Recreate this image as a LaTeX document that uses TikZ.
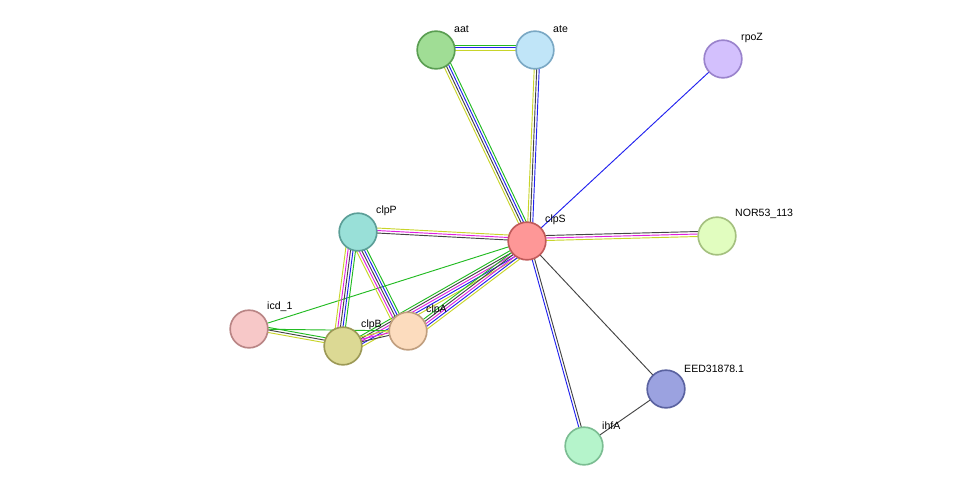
\documentclass[tikz,border=0pt]{standalone}
\usepackage{fontspec}
\setmainfont{Liberation Sans}
\usetikzlibrary{calc,backgrounds}
\definecolor{ey}{HTML}{C8D42A}
\definecolor{eg}{HTML}{22BB22}
\definecolor{eb}{HTML}{2222EE}
\definecolor{em}{HTML}{E020E0}
\definecolor{ek}{HTML}{444444}
\definecolor{aatF}{HTML}{A0DD95}\definecolor{aatD}{HTML}{5A9E52}
\definecolor{ateF}{HTML}{C0E5F8}\definecolor{ateD}{HTML}{7AA8C4}
\definecolor{rpoF}{HTML}{D3C0FD}\definecolor{rpoD}{HTML}{9A83CC}
\definecolor{clsF}{HTML}{FE9797}\definecolor{clsD}{HTML}{C05A5A}
\definecolor{norF}{HTML}{E1FDBF}\definecolor{norD}{HTML}{A4C07F}
\definecolor{clpF}{HTML}{99E0D8}\definecolor{clpD}{HTML}{5B9E97}
\definecolor{icdF}{HTML}{F7C8C8}\definecolor{icdD}{HTML}{B98585}
\definecolor{clbF}{HTML}{DCD994}\definecolor{clbD}{HTML}{9C9956}
\definecolor{claF}{HTML}{FCDCBE}\definecolor{claD}{HTML}{C09E7E}
\definecolor{eedF}{HTML}{9BA2E0}\definecolor{eedD}{HTML}{5A62A0}
\definecolor{ihfF}{HTML}{B5F4CB}\definecolor{ihfD}{HTML}{7BBD92}
\newcommand{\strand}[3]{%
  \foreach \c [count=\i] in {#3} {
    \pgfmathsetmacro{\off}{(\i-1)*0.075}
    \draw[\c, line width=0.8pt] ($(#1)!\off cm!90:(#2)$) -- ($(#2)!\off cm!-90:(#1)$);
  }}
\begin{document}
\begin{tikzpicture}[x=0.03cm,y=-0.03cm,
  prot/.style={circle, minimum size=1.13cm, inner sep=0pt, line width=1.4pt, fill=#1F, draw=#1D},
  lbl/.style={font=\fontsize{9pt}{10pt}\selectfont, inner sep=0pt, anchor=south west}]
\useasboundingbox (0,0) rectangle (976,492);
\node[prot=aat] (aat) at (436,50) {};
\node[prot=ate] (ate) at (535,50) {};
\node[prot=rpo] (rpoZ) at (723,59) {};
\node[prot=cls] (clpS) at (527,241) {};
\node[prot=nor] (nor) at (717,236) {};
\node[prot=clp] (clpP) at (358,232) {};
\node[prot=icd] (icd) at (249,329) {};
\node[prot=clb] (clpB) at (343,346) {};
\node[prot=cla] (clpA) at (408,331) {};
\node[prot=eed] (eed) at (666,389) {};
\node[prot=ihf] (ihfA) at (584,446) {};
% labels
\node[lbl] at (454,33) {aat};
\node[lbl] at (553,33) {ate};
\node[lbl] at (741,43) {rpoZ};
\node[lbl] at (545,225) {clpS};
\node[lbl] at (735,219) {NOR53\_113};
\node[lbl] at (376,216) {clpP};
\node[lbl] at (267,312) {icd\_1};
\node[lbl] at (361,330) {clpB};
\node[lbl] at (426,315) {clpA};
\node[lbl] at (684,373) {EED31878.1};
\node[lbl] at (602,430) {ihfA};
% edges
\begin{scope}[on background layer]
\strand{aat}{ate}{ey,eb,eg}
\strand{aat}{clpS}{ey,ek,eb,eg}
\strand{ate}{clpS}{ey,ek,eb}
\strand{rpoZ}{clpS}{eb}
\strand{clpS}{nor}{ey,em,ek}
\strand{clpP}{clpS}{ek,em,ey}
\strand{clpS}{clpB}{eg,ek,em,eb,ey}
\strand{clpS}{clpA}{eg,ek,em,eb,ey}
\strand{clpS}{icd}{eg}
\strand{clpS}{ihfA}{eb,ek}
\strand{clpS}{eed}{ek}
\strand{eed}{ihfA}{ek}
\strand{clpB}{clpP}{eg,eb,ek,em,ey}
\strand{clpA}{clpP}{eg,eb,ek,em,ey}
\strand{icd}{clpB}{ey,ek,eg}
\strand{icd}{clpA}{eg}
\strand{clpB}{clpA}{ek,em,ey}
\end{scope}
\end{tikzpicture}
\end{document}
